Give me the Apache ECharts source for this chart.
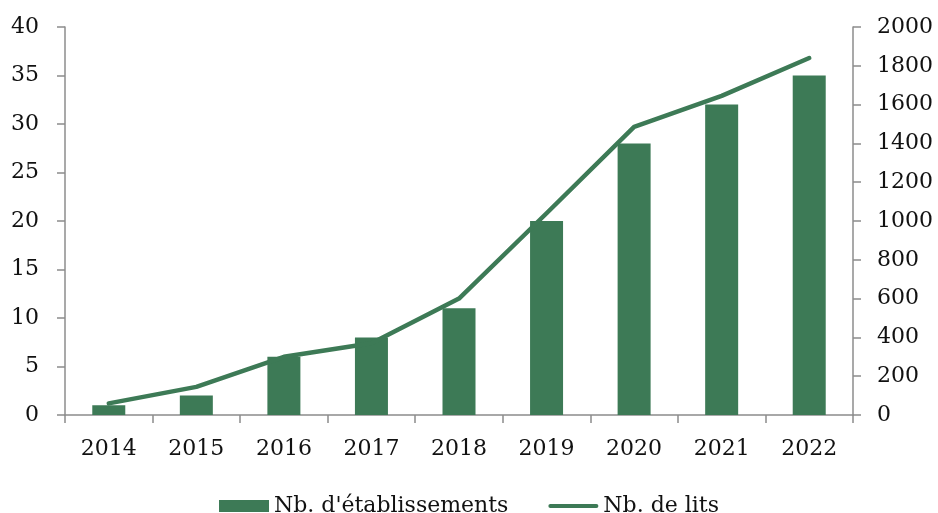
<!DOCTYPE html>
<html>
<head>
<meta charset="utf-8">
<script src="https://cdn.jsdelivr.net/npm/echarts@6/dist/echarts.min.js"></script>
<style>
  html, body { margin: 0; padding: 0; background: #fff; }
  #chart { width: 938px; height: 513px; }
</style>
</head>
<body>
<div id="chart"></div>
<script>
// data
var years = ["2014", "2015", "2016", "2017", "2018", "2019", "2020", "2021", "2022"];
var etablissements = [1, 2, 6, 8, 11, 20, 28, 32, 35];
var lits = [60, 145, 300, 370, 600, 1040, 1485, 1645, 1840];

var green = "#3d7a56";
var axisGrey = "#8c8c8c";
var font = "DejaVu Serif";
var fs = 22;

var chart = echarts.init(document.getElementById("chart"));

var option = {
  backgroundColor: "#fff",
  animation: false,
  textStyle: { fontFamily: font },
  grid: { left: 65, right: 85, top: 27, bottom: 98, containLabel: false },
  legend: {
    top: 490,
    left: "center",
    itemWidth: 50,
    itemHeight: 12,
    itemGap: 40,
    textStyle: { fontFamily: font, fontSize: fs, color: "#111" },
    data: [
      { name: "Nb. d'établissements", icon: "rect" },
      { name: "Nb. de lits", icon: "path://M2,0H48A2,2 0 0 1 48,4H2A2,2 0 0 1 2,0Z" }
    ]
  },
  xAxis: {
    type: "category",
    data: years,
    boundaryGap: true,
    axisLine: { lineStyle: { color: axisGrey, width: 1.5 } },
    axisTick: { show: true, length: 8, lineStyle: { color: axisGrey, width: 1.5 } },
    axisLabel: { fontFamily: font, fontSize: fs, color: "#111", margin: 23 },
    splitLine: { show: false }
  },
  yAxis: [
    {
      type: "value",
      min: 0,
      max: 40,
      interval: 5,
      position: "left",
      axisLine: { show: true, lineStyle: { color: axisGrey, width: 1.5 } },
      axisTick: { show: true, length: 8, lineStyle: { color: axisGrey, width: 1.5 } },
      axisLabel: { fontFamily: font, fontSize: fs, color: "#111", margin: 26 },
      splitLine: { show: false }
    },
    {
      type: "value",
      min: 0,
      max: 2000,
      interval: 200,
      position: "right",
      axisLine: { show: true, lineStyle: { color: axisGrey, width: 1.5 } },
      axisTick: { show: true, length: 8, lineStyle: { color: axisGrey, width: 1.5 } },
      axisLabel: {
        fontFamily: font, fontSize: fs, color: "#111", margin: 24,
        formatter: function (v) { return String(v); }
      },
      splitLine: { show: false }
    }
  ],
  series: [
    {
      name: "Nb. d'établissements",
      type: "bar",
      yAxisIndex: 0,
      data: etablissements,
      barWidth: 33,
      itemStyle: { color: green }
    },
    {
      name: "Nb. de lits",
      type: "line",
      yAxisIndex: 1,
      data: lits,
      symbol: "none",
      lineStyle: { color: green, width: 4.5, cap: "round", join: "round" },
      itemStyle: { color: green }
    }
  ]
};

chart.setOption(option);
</script>
</body>
</html>
